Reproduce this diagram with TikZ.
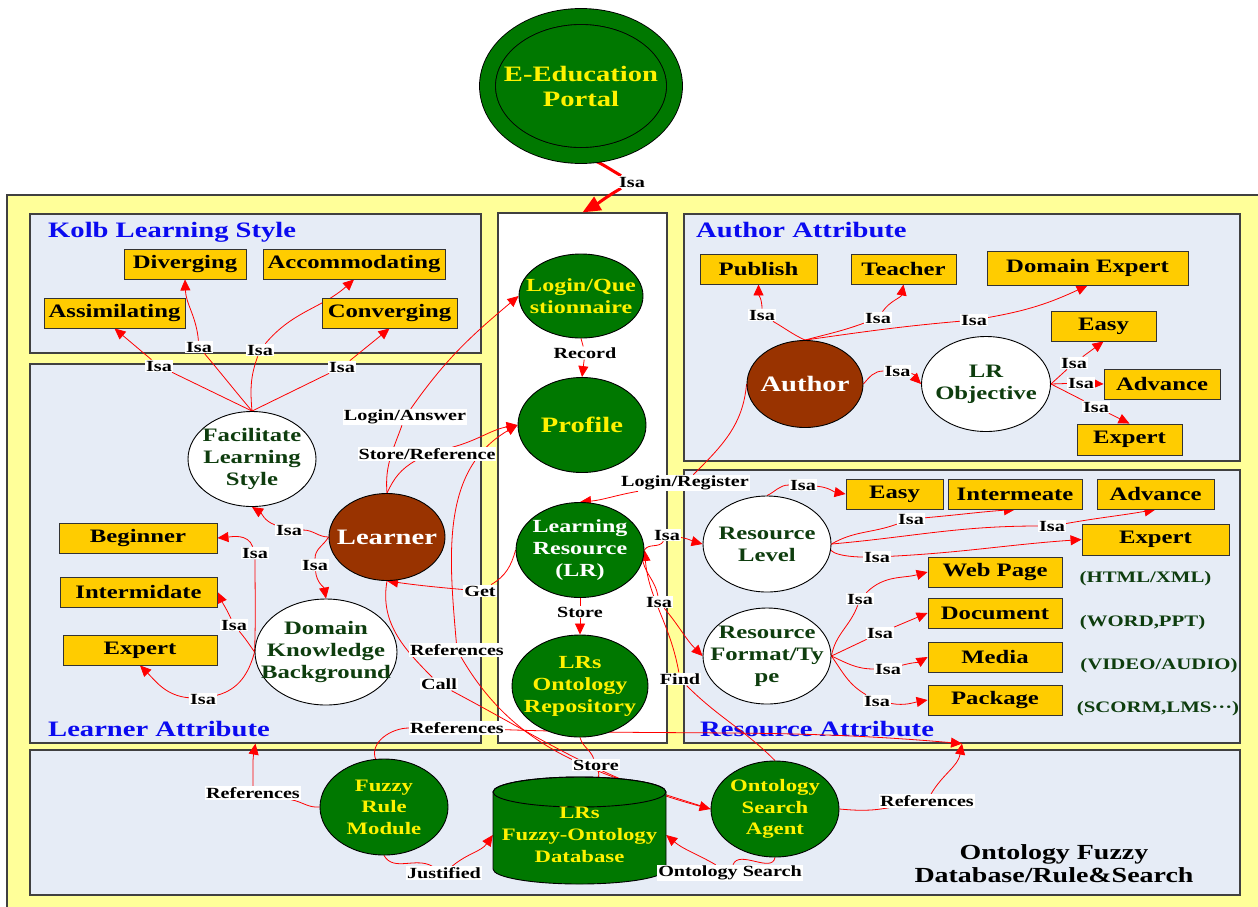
\documentclass[tikz,border=0pt]{standalone}
\usepackage{fontspec}
\setmainfont{Liberation Serif}[FakeStretch=1.3]
\usepackage{tikz}
\usetikzlibrary{arrows.meta,shapes.geometric}

\definecolor{paleyellow}{RGB}{255,255,153}
\definecolor{paleblue}{RGB}{230,236,246}
\definecolor{boxorange}{RGB}{255,204,0}
\definecolor{portalgreen}{RGB}{0,120,0}
\definecolor{learnerbrown}{RGB}{153,51,0}
\definecolor{textgreen}{RGB}{14,61,14}
\definecolor{titleblue}{RGB}{10,10,240}

\pgfdeclarelayer{bg}
\pgfdeclarelayer{edges}
\pgfsetlayers{bg,edges,main}

\newcommand{\fsize}[2]{\fontsize{#1}{#2}\selectfont\bfseries}

\tikzset{
  panel/.style={draw=black!75, line width=1.2pt, fill=paleblue, inner sep=0pt},
  attr/.style={draw=black!80, line width=0.9pt, fill=boxorange, minimum height=30, inner sep=0pt, font=\fsize{19}{22}},
  oval/.style={ellipse, draw=black, line width=0.9pt, inner sep=-15pt, align=center},
  greenoval/.style={oval, fill=portalgreen, text=yellow, font=\fsize{18.5}{22}},
  brownoval/.style={oval, fill=learnerbrown, text=white, font=\fsize{22}{25}},
  whiteoval/.style={oval, fill=white, text=textgreen, font=\fsize{19}{22}},
  lbl/.style={fill=white, inner sep=1pt, font=\fsize{15.5}{17}},
  rel/.style={draw=red, line width=0.8pt, -{Triangle[length=11pt,width=10pt]}},
  paneltitle/.style={anchor=base west, inner sep=0pt, text=titleblue, font=\fsize{22}{24}},
  sidetext/.style={text=textgreen, font=\fsize{16}{18}},
}

\begin{document}
\begin{tikzpicture}[x=1pt,y=1pt]
  \useasboundingbox (0,0) rectangle (1258,-906);

  % panels and their titles
  \begin{pgfonlayer}{bg}
    \draw[draw=black!75, line width=1.2pt, fill=paleyellow] (7,-195) rectangle (1264,-914);
    \node[panel, minimum width=451, minimum height=139] (kolb) at (255.5,-283.5) {};
    \node[panel, minimum width=451, minimum height=379] (learnerattr) at (255.5,-553.5) {};
    \node[panel, fill=white, minimum width=169, minimum height=530] (core) at (582.5,-478) {};
    \node[panel, minimum width=556, minimum height=247] (authorattr) at (962,-337.5) {};
    \node[panel, minimum width=556, minimum height=273] (resattr) at (962,-606.5) {};
    \node[panel, minimum width=1210, minimum height=145] (fuzzybox) at (635,-822.5) {};

    \node[paneltitle] at (48,-237) {Kolb Learning Style};
    \node[paneltitle] at (48,-736) {Learner Attribute};
    \node[paneltitle] at (696,-237) {Author Attribute};
    \node[paneltitle] at (700,-736) {Resource Attribute};
  \end{pgfonlayer}

  % portal
  \node[oval, fill=portalgreen, draw=black, double=portalgreen, double distance=15pt,
        text=yellow, font=\fsize{22}{25}, minimum width=187, minimum height=139]
        (portal) at (581,-86) {E-Education\\Portal};

  % central column
  \node[greenoval, minimum width=124, minimum height=84] (loginq) at (581,-296) {Login/Que\\stionnaire};
  \node[greenoval, font=\fsize{22}{25}, minimum width=128, minimum height=95] (profile) at (582,-425) {Profile};
  \node[greenoval, text=white, minimum width=128, minimum height=95] (lr) at (580,-550) {Learning\\Resource\\(LR)};
  \node[greenoval, minimum width=136, minimum height=102] (repo) at (580,-686) {LRs\\Ontology\\Repository};

  % kolb learning style
  \node[attr, minimum width=122] (div) at (185,-264) {Diverging};
  \node[attr, minimum width=182] (acc) at (354,-264) {Accommodating};
  \node[attr, minimum width=141] (asm) at (114.5,-313) {Assimilating};
  \node[attr, minimum width=135] (conv) at (389.5,-313) {Converging};

  % learner attribute
  \node[brownoval, minimum width=116, minimum height=87] (learner) at (387,-537) {Learner};
  \node[whiteoval, minimum width=128, minimum height=95] (fls) at (252,-459) {Facilitate\\Learning\\Style};
  \node[whiteoval, minimum width=142, minimum height=106] (dkb) at (326,-652) {Domain\\Knowledge\\Background};
  \node[attr, minimum width=158] (beginner) at (138,-538) {Beginner};
  \node[attr, minimum width=157] (intermidate) at (138.5,-592) {Intermidate};
  \node[attr, minimum width=154] (expertL) at (140,-650) {Expert};

  % author attribute
  \node[brownoval, minimum width=116, minimum height=87] (author) at (805,-384) {Author};
  \node[whiteoval, minimum width=129, minimum height=95] (lro) at (986,-384) {LR\\Objective};
  \node[attr, minimum width=117] (publish) at (758.5,-269) {Publish};
  \node[attr, minimum width=105] (teacher) at (903.5,-269) {Teacher};
  \node[attr, minimum width=201, minimum height=34] (domexpert) at (1087.5,-268) {Domain Expert};
  \node[attr, minimum width=105] (easyA) at (1103.5,-326) {Easy};
  \node[attr, minimum width=116] (advanceA) at (1162,-384) {Advance};
  \node[attr, minimum width=105, minimum height=31] (expertA) at (1129.5,-439.5) {Expert};

  % resource attribute
  \node[whiteoval, minimum width=128, minimum height=96] (rlevel) at (767,-544) {Resource\\Level};
  \node[whiteoval, minimum width=128, minimum height=96] (rformat) at (767,-656) {Resource\\Format/Ty\\pe};
  \node[attr, minimum width=97] (easyR) at (894.5,-494) {Easy};
  \node[attr, minimum width=134] (intermeate) at (1015,-494) {Intermeate};
  \node[attr, minimum width=117] (advanceR) at (1155.5,-494) {Advance};
  \node[attr, minimum width=147, minimum height=31] (expertR) at (1155.5,-539.5) {Expert};
  \node[attr, minimum width=134] (webpage) at (995,-572) {Web Page};
  \node[attr, minimum width=134] (document) at (995,-613) {Document};
  \node[attr, minimum width=134] (media) at (995,-657) {Media};
  \node[attr, minimum width=134] (package) at (995,-700) {Package};
  \node[sidetext] (html) at (1145.5,-579) {(HTML/XML)};
  \node[sidetext] (word) at (1142.5,-623) {(WORD,PPT)};
  \node[sidetext] (video) at (1159,-666) {(VIDEO/AUDIO)};
  \node[sidetext] (scorm) at (1158,-709) {(SCORM,LMS···)};

  % fuzzy database, rule and search
  \node[greenoval, font=\fsize{17.5}{21.5}, minimum width=128, minimum height=96] (fuzzy) at (384,-807) {Fuzzy\\Rule\\Module};
  \node[greenoval, font=\fsize{17.5}{21.5}, minimum width=128, minimum height=96] (osa) at (775,-809) {Ontology\\Search\\Agent};
  \draw[fill=portalgreen, line width=0.9pt] (493,-792) -- (493,-869)
    arc[start angle=180, end angle=360, x radius=86.5, y radius=15] -- (666,-792)
    arc[start angle=0, end angle=180, x radius=86.5, y radius=15] -- cycle;
  \draw[line width=0.9pt] (579.5,-792) ellipse[x radius=86.5, y radius=15];
  \node[text=yellow, align=center, font=\fsize{17.5}{22}, minimum width=173, minimum height=92, inner sep=0pt]
        (db) at (579.5,-835) {LRs\\Fuzzy-Ontology\\Database};
  \coordinate (dbtop) at (580,-792);
  \node[align=center, font=\fsize{21.5}{23}] (fuzzytitle) at (1054,-864) {Ontology Fuzzy\\Database/Rule\&Search};

  % connector labels
  \node[lbl] (isaPortal) at (632,-182) {Isa};
  \node[lbl] (record) at (585,-353) {Record};
  \node[lbl] (storeLR) at (580,-612) {Store};
  \node[lbl] (loginAnswer) at (405,-417) {Login/Answer};
  \node[lbl] (storeRef) at (427,-454) {Store/Reference};
  \node[lbl] (get) at (480,-591) {Get};
  \node[lbl] (loginReg) at (685,-483) {Login/Register};
  \node[lbl] (isaLevel) at (667,-535) {Isa};
  \node[lbl] (isaFormat) at (659,-602) {Isa};
  \node[lbl] (find) at (680,-679) {Find};
  \node[lbl] (call) at (439,-684) {Call};
  \node[lbl] (refProfile) at (457,-650) {References};
  \node[lbl] (storeDB) at (596,-765) {Store};
  \node[lbl] (refLearner) at (253,-793) {References};
  \node[lbl] (refResFuzzy) at (457,-728) {References};
  \node[lbl] (refResOSA) at (927,-801) {References};
  \node[lbl] (justified) at (444,-873) {Justified};
  \node[lbl] (ontoSearch) at (730,-873) {Ontology Search};

  \node[lbl] (isaFLS) at (289,-530) {Isa};
  \node[lbl] (isaDKB) at (315,-565) {Isa};
  \node[lbl] (isaAsm) at (159,-366) {Isa};
  \node[lbl] (isaDiv) at (199,-347) {Isa};
  \node[lbl] (isaAcc) at (260,-350) {Isa};
  \node[lbl] (isaConv) at (342,-367) {Isa};
  \node[lbl] (isaBeg) at (255,-553) {Isa};
  \node[lbl] (isaInt) at (234,-625) {Isa};
  \node[lbl] (isaExp) at (203,-699) {Isa};

  \node[lbl] (isaPub) at (762,-315) {Isa};
  \node[lbl] (isaTea) at (878,-318) {Isa};
  \node[lbl] (isaDom) at (974,-320) {Isa};
  \node[lbl] (isaLro) at (897.5,-371) {Isa};
  \node[lbl] (isaEasyA) at (1074,-363) {Isa};
  \node[lbl] (isaAdvA) at (1081,-383) {Isa};
  \node[lbl] (isaExpA) at (1096,-407) {Isa};

  \node[lbl] (isaEasyR) at (803,-485) {Isa};
  \node[lbl] (isaInterR) at (911,-519) {Isa};
  \node[lbl] (isaAdvR) at (1052,-526) {Isa};
  \node[lbl] (isaExpR) at (877,-557) {Isa};
  \node[lbl] (isaWeb) at (860,-599) {Isa};
  \node[lbl] (isaDoc) at (880,-633) {Isa};
  \node[lbl] (isaMedia) at (888,-669) {Isa};
  \node[lbl] (isaPkg) at (877,-701) {Isa};

  \begin{pgfonlayer}{edges}
    % portal
    \draw[rel, line width=3pt, -{Triangle[length=18pt,width=15pt]}] (portal.-95) to[out=-5,in=150] (isaPortal) to[out=-150,in=30] (core.north);

    % central column
    \draw[rel] (loginq.south) -- (record) -- (profile.north);
    \draw[rel] (lr.south) -- (storeLR) -- (repo.north);
    \draw[rel] (learner.north) to[out=95,in=-110] (loginAnswer) to[out=55,in=-140] (loginq.west);
    \draw[rel] (learner.north) to[out=65,in=210] (storeRef) to[out=15,in=190] (profile.west);
    \draw[rel] (lr.west) to[out=-105,in=30] (get) to[out=175,in=-8] (learner.south);
    \draw[rel] (author.west) to[out=-95,in=45] (loginReg) to[out=190,in=5] (lr.north);
    \draw[rel] (lr.east) to[out=60,in=-120] (isaLevel) to[out=-10,in=165] (rlevel.west);
    \draw[rel] (lr.-10) to[out=-75,in=100] (isaFormat) to[out=-50,in=135] (rformat.west);
    \draw[rel] (osa.north) to[out=135,in=-45] (find) to[out=100,in=-85] (lr.east);
    \draw[rel] (learner.south) to[out=-100,in=135] (call) to[out=-28,in=165] (osa.west);
    \draw[rel] (osa.west) to[out=162,in=-60] (refProfile) to[out=95,in=-150] (profile.west);
    \draw[rel] (repo.south) to[out=-75,in=110] (storeDB) to[out=-70,in=55] (dbtop);

    % learner attribute
    \draw[rel] (learner.west) to[out=180,in=0] (isaFLS) to[out=160,in=-33] (fls.south);
    \draw[rel] (learner.west) to[out=-120,in=90] (isaDKB) to[out=-85,in=100] (dkb.north);
    \draw[rel] (fls.north) -- (isaAsm) -- (asm.south);
    \draw[rel] (fls.north) to[out=130,in=-50] (isaDiv) to[out=95,in=-88] (div.south);
    \draw[rel] (fls.north) to[out=95,in=-110] (isaAcc) to[out=50,in=-138] (acc.south);
    \draw[rel] (fls.north) -- (isaConv) -- (conv.south);
    \draw[rel] (dkb.west) to[out=88,in=-90] (isaBeg) to[out=110,in=5] (beginner.east);
    \draw[rel] (dkb.west) to[out=125,in=-50] (isaInt) to[out=115,in=-65] (intermidate.east);
    \draw[rel] (dkb.west) to[out=-105,in=15] (isaExp) to[out=175,in=-45] (expertL.south);

    % author attribute
    \draw[rel] (author.north) to[out=155,in=-30] (isaPub) to[out=90,in=-90] (publish.south);
    \draw[rel] (author.north) to[out=15,in=-160] (isaTea) to[out=55,in=-100] (teacher.south);
    \draw[rel] (author.north) to[out=8,in=185] (isaDom) to[out=10,in=-155] (domexpert.south);
    \draw[rel] (author.east) to[out=50,in=180] (isaLro) to[out=-10,in=135] (lro.west);
    \draw[rel] (lro.east) -- (isaEasyA) -- (easyA.south);
    \draw[rel] (lro.east) -- (isaAdvA) -- (advanceA.west);
    \draw[rel] (lro.east) -- (isaExpA) -- (expertA.north);

    % resource attribute
    \draw[rel] (rlevel.north) to[out=25,in=180] (isaEasyR) to[out=-5,in=170] (easyR.west);
    \draw[rel] (rlevel.east) to[out=30,in=200] (isaInterR) to[out=5,in=184] (intermeate.south);
    \draw[rel] (rlevel.east) to[out=5,in=180] (isaAdvR) to[out=10,in=190] (advanceR.south);
    \draw[rel] (rlevel.east) to[out=-130,in=180] (isaExpR) to[out=3,in=184] (expertR.west);
    \draw[rel] (rformat.east) to[out=80,in=-110] (isaWeb) to[out=45,in=195] (webpage.west);
    \draw[rel] (rformat.east) -- (isaDoc) -- (document.west);
    \draw[rel] (rformat.east) to[out=-25,in=180] (isaMedia) to[out=15,in=210] (media.west);
    \draw[rel] (rformat.east) to[out=-55,in=150] (isaPkg) to[out=-10,in=190] (package.west);

    % fuzzy database, rule and search
    \draw[rel] (fuzzy.west) to[out=185,in=-10] (refLearner) to[out=90,in=-100] (learnerattr.south);
    \draw[rel] (fuzzy.100) to[out=110,in=180] (refResFuzzy) to[out=-2,in=175] (resattr.south);
    \draw[rel] (osa.east) to[out=-5,in=190] (refResOSA) to[out=60,in=-100] (resattr.south);
    \draw[rel] (fuzzy.south) to[out=-60,in=150] (justified) to[out=40,in=-125] (db.west);
    \draw[rel] (osa.south) to[out=-100,in=70] (ontoSearch) to[out=150,in=-40] (db.east);
  \end{pgfonlayer}
\end{tikzpicture}
\end{document}
